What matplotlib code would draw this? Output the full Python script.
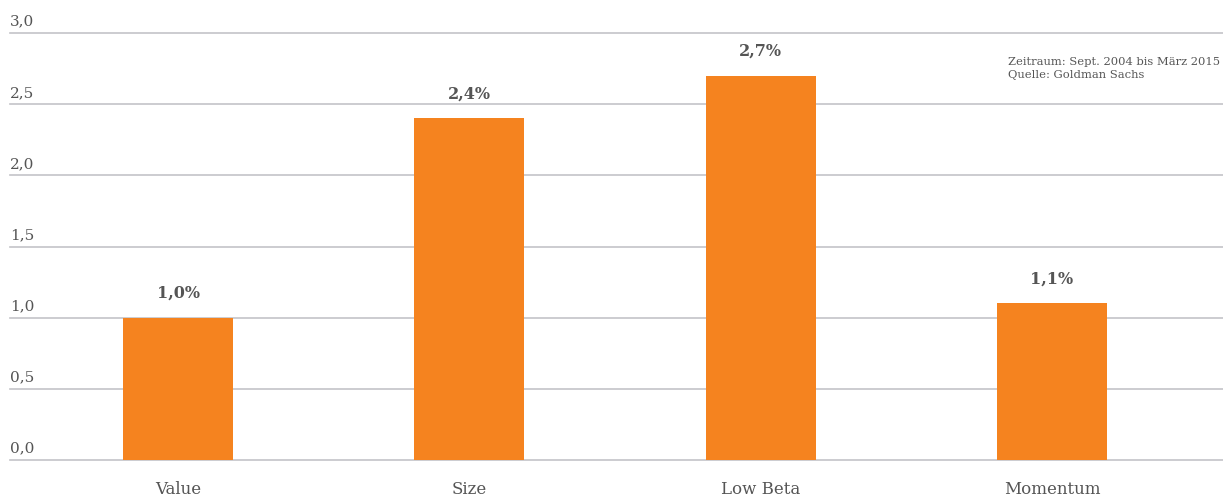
import numpy as np
import matplotlib.pyplot as plt
from matplotlib import transforms

categories = ['Value', 'Size', 'Low Beta', 'Momentum']
values = [1.0, 2.4, 2.7, 1.1]
value_labels = ['1,0%', '2,4%', '2,7%', '1,1%']
yticks = [0.0, 0.5, 1.0, 1.5, 2.0, 2.5, 3.0]
ytick_labels = ['0,0', '0,5', '1,0', '1,5', '2,0', '2,5', '3,0']
note = 'Zeitraum: Sept. 2004 bis März 2015\nQuelle: Goldman Sachs'

orange = '#F5831F'
grid_col = '#c3c3c8'
text_col = '#555555'

plt.rcParams['font.family'] = ['DejaVu Serif']

fig = plt.figure(figsize=(12.23, 4.96), dpi=100)
# axes from x=10px to right edge, y=0 at 460px, y=3 at 33px
ax = fig.add_axes([10 / 1223, (496 - 460) / 496, 1213 / 1223, 427 / 496])

x = np.arange(len(categories))
ax.bar(x, values, width=0.378, color=orange, zorder=2)

for yv in yticks:
    ax.axhline(yv, color=grid_col, lw=1.2, zorder=1, clip_on=False)

trans = transforms.blended_transform_factory(ax.transAxes, ax.transData)
for yv, lab in zip(yticks, ytick_labels):
    ax.text(0, yv + 0.03, lab, transform=trans, ha='left', va='bottom',
            fontsize=11, color=text_col)

for xi, v, lab in zip(x, values, value_labels):
    ax.text(xi, v + 0.11, lab, ha='center', va='bottom', fontsize=11.5,
            fontweight='bold', color=text_col)

ax.set_xlim(-0.577, 3.587)
ax.set_ylim(0, 3.0)
ax.set_xticks(x)
ax.set_xticklabels(categories, fontsize=12, color=text_col)
ax.tick_params(axis='x', length=0, pad=15)
ax.set_yticks([])
for s in ax.spines.values():
    s.set_visible(False)

fig.text(1008 / 1223, 1 - 57 / 496, note, ha='left', va='top', fontsize=8.25,
         color=text_col, linespacing=1.4)

fig.savefig('out.png', dpi=100)
